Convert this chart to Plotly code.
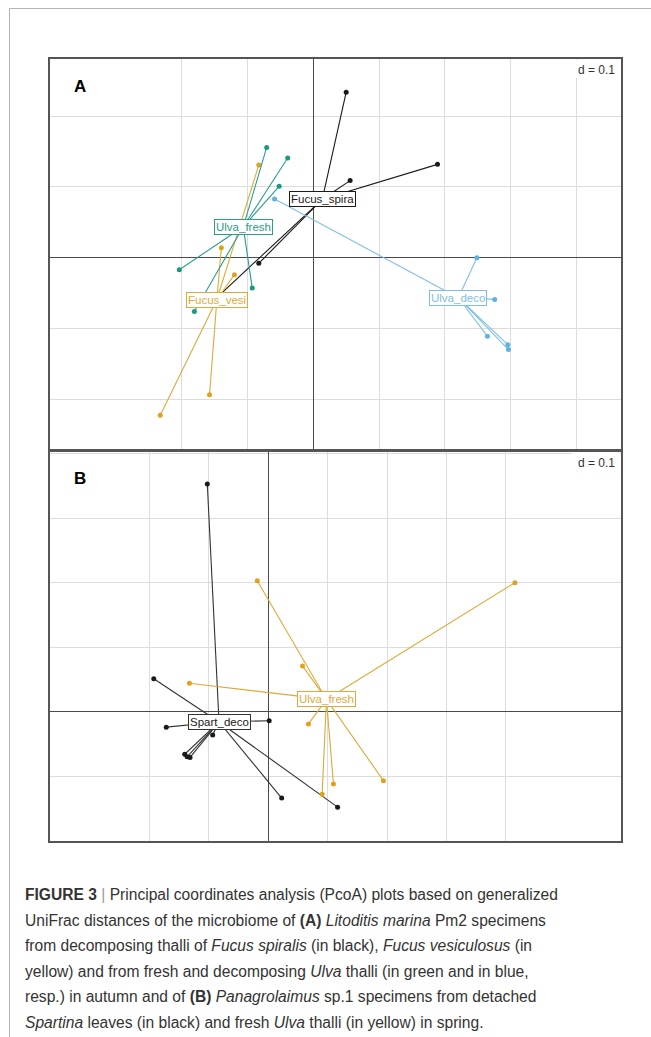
import numpy as np
import plotly.graph_objects as go

W, H = 651, 1037

# ---------------- Panel A: Litoditis marina Pm2 (autumn) ----------------
a_spira_x = [0.050, 0.056, 0.189, -0.083, -0.144]
a_spira_y = [0.234, 0.109, 0.132, -0.008, -0.054]

a_vesi_x = [-0.083, -0.140, -0.120, -0.158, -0.233]
a_vesi_y = [0.131, 0.014, -0.024, -0.194, -0.223]

a_ufresh_x = [-0.071, -0.039, -0.052, -0.204, -0.093, -0.181]
a_ufresh_y = [0.156, 0.141, 0.101, -0.017, -0.043, -0.076]

a_udeco_x = [-0.059, 0.249, 0.276, 0.265, 0.296, 0.297]
a_udeco_y = [0.083, 0.000, -0.059, -0.111, -0.123, -0.130]

# ---------------- Panel B: Panagrolaimus sp.1 (spring) ----------------
b_spart_x = [-0.102, -0.192, -0.171, 0.002, -0.093, -0.140, -0.136, -0.131, 0.023, 0.117]
b_spart_y = [0.353, 0.051, -0.024, -0.014, -0.036, -0.066, -0.070, -0.071, -0.134, -0.148]

b_ufresh_x = [-0.018, 0.415, 0.058, -0.132, 0.068, 0.110, 0.091, 0.194]
b_ufresh_y = [0.203, 0.200, 0.071, 0.044, -0.019, -0.112, -0.128, -0.107]

# grid positions (d = 0.1)
a_gx = [-0.2, -0.1, 0.0, 0.1, 0.2, 0.3, 0.4]
a_gy = [-0.2, -0.1, 0.0, 0.1, 0.2]
b_gx = [-0.2, -0.1, 0.0, 0.1, 0.2, 0.3, 0.4]
b_gy = [-0.1, 0.0, 0.1, 0.2, 0.3, 0.4]

BLACK = "#1a1a1a"
GOLD = "#E0A21A"
GREEN = "#159c80"
BLUE = "#5fb3e0"

panel_a = [
    ("Fucus_spira", a_spira_x, a_spira_y, BLACK, BLACK),
    ("Fucus_vesi", a_vesi_x, a_vesi_y, "#dcaa3a", GOLD),
    ("Ulva_fresh", a_ufresh_x, a_ufresh_y, "#2a9d8c", GREEN),
    ("Ulva_deco", a_udeco_x, a_udeco_y, "#7fc0e0", BLUE),
]
panel_b = [
    ("Spart_deco", b_spart_x, b_spart_y, "#333333", BLACK),
    ("Ulva_fresh", b_ufresh_x, b_ufresh_y, "#dcaa3a", GOLD),
]

fig = go.Figure()
annotations = []
shapes = []


def add_groups(groups, xa, ya):
    labels = []
    for name, xs, ys, lcol, pcol in groups:
        cx, cy = float(np.mean(xs)), float(np.mean(ys))
        sx, sy = [], []
        for x, y in zip(xs, ys):
            sx += [cx, x, None]
            sy += [cy, y, None]
        fig.add_trace(go.Scatter(x=sx, y=sy, mode="lines", xaxis=xa, yaxis=ya,
                                 line=dict(color=lcol, width=1.1),
                                 hoverinfo="skip", showlegend=False))
        fig.add_trace(go.Scatter(x=xs, y=ys, mode="markers", xaxis=xa, yaxis=ya,
                                 marker=dict(color=pcol, size=5, symbol="circle"),
                                 name=name, showlegend=False))
        tcol = BLACK if lcol == "#333333" else lcol
        labels.append(dict(x=cx, y=cy, xref=xa, yref=ya, text=name, showarrow=False,
                           font=dict(family="Liberation Sans, Arial", size=11.5, color=tcol),
                           bgcolor="white", bordercolor=lcol, borderwidth=1, borderpad=1,
                           xanchor="center", yanchor="middle"))
    annotations.extend(labels)


add_groups(panel_a, "x", "y")
add_groups(panel_b, "x2", "y2")

dom_x = [50 / W, 621 / W]
dom_a = [1 - 449 / H, 1 - 59 / H]
dom_b = [1 - 841 / H, 1 - 452 / H]

axis_common = dict(showticklabels=False, ticks="", showgrid=True, gridcolor="#dcdcdc",
                   gridwidth=1, zeroline=True, zerolinecolor="#4a4a4a", zerolinewidth=1.3,
                   showline=True, linecolor="#555555", linewidth=1.6, mirror=True)

fig.update_layout(
    width=W, height=H,
    margin=dict(l=0, r=0, t=0, b=0),
    paper_bgcolor="white", plot_bgcolor="white",
    xaxis=dict(domain=dom_x, range=[-0.4008, 0.4683], tickvals=a_gx, anchor="y", **axis_common),
    yaxis=dict(domain=dom_a, range=[-0.2706, 0.2810], tickvals=a_gy, anchor="x", **axis_common),
    xaxis2=dict(domain=dom_x, range=[-0.3664, 0.5933], tickvals=b_gx, anchor="y2", **axis_common),
    yaxis2=dict(domain=dom_b, range=[-0.2005, 0.4026], tickvals=b_gy, anchor="x2", **axis_common),
)

# scale boxes "d = 0.1" and panel letters
for top, letter_y, letter in [(59, 87, "A"), (452, 479, "B")]:
    shapes.append(dict(type="rect", xref="paper", yref="paper", layer="above",
                       x0=572 / W, x1=619.5 / W, y0=1 - (top + 19) / H, y1=1 - (top + 1) / H,
                       fillcolor="white", line=dict(width=0)))
    annotations.append(dict(x=617 / W, y=1 - (top + 11) / H, xref="paper", yref="paper",
                            text="d = 0.1", showarrow=False, xanchor="right", yanchor="middle",
                            font=dict(family="Liberation Sans, Arial", size=12, color="#333333")))
    annotations.append(dict(x=80 / W, y=1 - letter_y / H, xref="paper", yref="paper",
                            text="<b>%s</b>" % letter, showarrow=False, xanchor="center",
                            yanchor="middle",
                            font=dict(family="Liberation Sans, Arial", size=17, color="black")))

# outer frame of the figure
shapes.append(dict(type="line", xref="paper", yref="paper", x0=9.5 / W, x1=9.5 / W,
                   y0=0, y1=1 - 8.5 / H, line=dict(color="#b5b5b5", width=1)))
shapes.append(dict(type="line", xref="paper", yref="paper", x0=9.5 / W, x1=1,
                   y0=1 - 8.5 / H, y1=1 - 8.5 / H, line=dict(color="#b5b5b5", width=1)))

caption_lines = [
    "<b>FIGURE 3</b> <span style='color:#9a9a9a'>|</span> Principal coordinates analysis (PcoA) plots based on generalized",
    "UniFrac distances of the microbiome of <b>(A)</b> <i>Litoditis marina</i> Pm2 specimens",
    "from decomposing thalli of <i>Fucus spiralis</i> (in black), <i>Fucus vesiculosus</i> (in",
    "yellow) and from fresh and decomposing <i>Ulva</i> thalli (in green and in blue,",
    "resp.) in autumn and of <b>(B)</b> <i>Panagrolaimus</i> sp.1 specimens from detached",
    "<i>Spartina</i> leaves (in black) and fresh <i>Ulva</i> thalli (in yellow) in spring.",
]
for i, line in enumerate(caption_lines):
    annotations.append(dict(x=23 / W, y=1 - (894.5 + i * 25.5) / H, xref="paper", yref="paper",
                            text=line, showarrow=False, xanchor="left", yanchor="middle",
                            font=dict(family="Liberation Sans, Arial", size=15.6, color="#333333")))

fig.update_layout(annotations=annotations, shapes=shapes)
fig.write_html("out.html")
